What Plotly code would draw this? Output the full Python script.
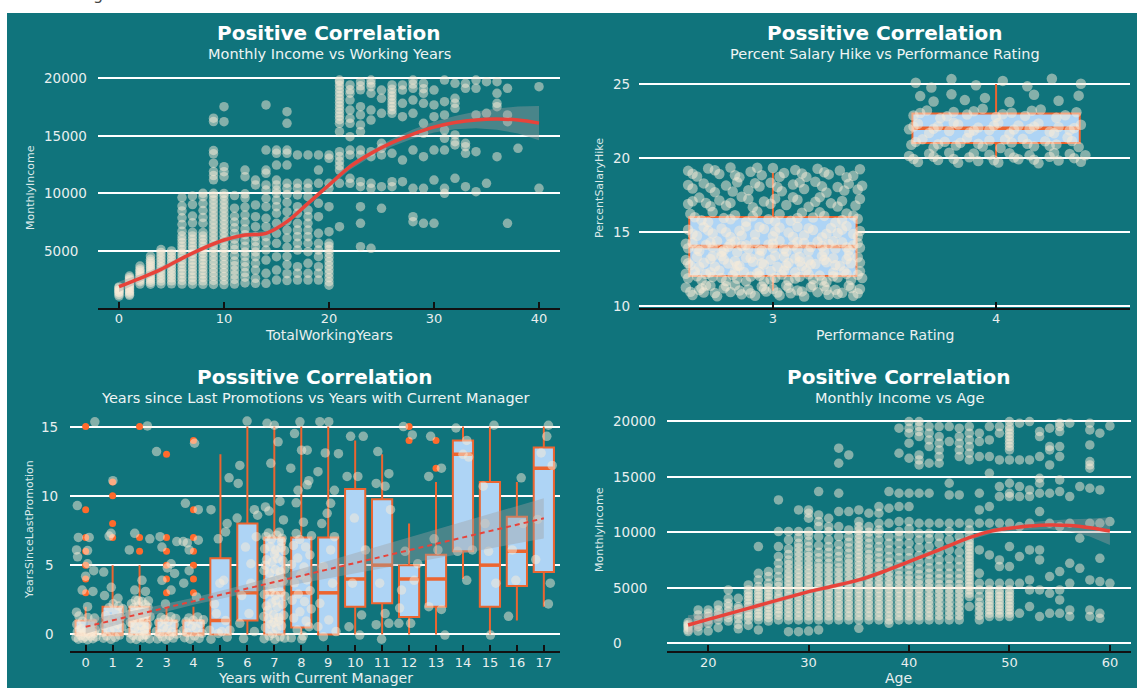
import plotly.graph_objects as go

W, H = 1137, 688
TEAL = "#10747c"
BEIGE = "#faebd7"
BOXFILL = "#aed4f5"
ORANGE = "#ec6530"
OUTLIER = "#ff6a2c"
RED = "#e8433a"
BAND = "rgba(160,160,160,0.40)"
FONT = "DejaVu Sans"
TICKC = "#e8efef"

# ---------------- Monthly income vs total working years ----------------
years_worked = [0, 1, 2, 3, 4, 5, 6, 7, 8, 9, 10, 11, 12, 13, 14, 15, 16, 17, 18, 19, 20,
                21, 22, 23, 24, 25, 26, 27, 28, 29, 30, 31, 32, 33, 34, 35, 36, 37, 38, 40]
income_by_years = [
    [1051, 1200, 1359, 1420, 1569, 1611, 1790, 1850],
    [1118, 1232, 1393, 1514, 1675, 1810, 1951, 2080, 2216, 2362, 2500, 2644, 2800],
    [2104, 2300, 2450, 2610, 2780, 2930, 3100, 3260, 3420, 3670],
    [2086, 2250, 2440, 2600, 2790, 2960, 3140, 3330, 3520, 3700, 3880, 4060, 4250, 4540],
    [2105, 2360, 2600, 2850, 3100, 3350, 3600, 3850, 4100, 4350, 4600, 4850, 5100],
    [2120, 2380, 2640, 2900, 3160, 3420, 3680, 3940, 4200, 4460, 4720, 4980],
    [2100, 2400, 2700, 3000, 3300, 3600, 3900, 4200, 4500, 4800, 5100, 5400, 5700, 6000, 6300,
     6700, 7280, 7860, 8460, 8890, 9620],
    [2090, 2390, 2690, 2990, 3290, 3590, 3890, 4190, 4490, 4790, 5090, 5390, 5690, 5990, 6290,
     6600, 7430, 8020, 9020, 9760],
    [2080, 2380, 2680, 2980, 3280, 3580, 3880, 4180, 4480, 4780, 5080, 5380, 5680, 5980, 6280,
     6580, 7400, 7900, 8500, 9100, 9700, 9990],
    [2070, 2420, 2770, 3120, 3470, 3820, 4170, 4520, 4870, 5220, 5570, 5920, 6270, 6620, 6970,
     7320, 7670, 8020, 8370, 8720, 9070, 9420, 9770, 9990, 11170, 11540, 11890, 12620, 13430,
     13720, 16240, 16530],
    [2060, 2410, 2760, 3110, 3460, 3810, 4160, 4510, 4860, 5210, 5560, 5910, 6260, 6610, 6960,
     7310, 7660, 8010, 8360, 8710, 9060, 9410, 9760, 9980, 11440, 11880, 12310, 16230, 17530],
    [2100, 2500, 2900, 3300, 3700, 4100, 4600, 5100, 5500, 6000, 6500, 7000, 7500, 8000, 8700, 9800],
    [2200, 2700, 3100, 3600, 4000, 4500, 4900, 5400, 5900, 6400, 6900, 7500, 8100, 8800, 9600,
     9950, 11440, 12020],
    [2160, 2600, 3320, 3900, 4480, 4900, 5350, 5800, 6220, 7090, 7960, 8980, 10720, 11150],
    [2160, 3030, 4190, 5060, 5700, 6220, 7090, 7820, 8830, 9560, 10280, 10720, 11730, 12020,
     13760, 17680],
    [2450, 3320, 4480, 5640, 6510, 7380, 8250, 8830, 9410, 9990, 10280, 10720, 11150, 12450,
     13470, 13760],
    [2400, 3000, 3800, 4500, 5300, 6100, 6800, 7600, 8400, 9200, 9900, 10430, 10870, 12450,
     13470, 13760, 16080, 17100],
    [2450, 3030, 3610, 5060, 5640, 6220, 6800, 7380, 8250, 8830, 9850, 10430, 10860, 13330],
    [2450, 3030, 3900, 4920, 5640, 6220, 6800, 7380, 7960, 8540, 9700, 10430, 10860, 13330],
    [2450, 3030, 3610, 4480, 5060, 5640, 6510, 7960, 9120, 10860, 12020, 13330],
    [2000, 2300, 2650, 3000, 3350, 3700, 4050, 4400, 4750, 5100, 5400, 5640, 6660, 8830, 10430,
     10860, 13040, 13330],
    [7090, 10860, 12020, 12400, 12800, 13200, 13620, 15360, 16080, 16400, 16700, 17000, 17300,
     17600, 17900, 18200, 18500, 18800, 19100, 19400, 19700, 19850],
    [10860, 11300, 13330, 13760, 14920, 16080, 16520, 17240, 18110, 18700, 19000, 19420],
    [5350, 7380, 8830, 10570, 11010, 13330, 13760, 15360, 15940, 16810, 17530, 19000, 19350, 19710],
    [5210, 10430, 10860, 13180, 13620, 16370, 17240, 18690, 19270, 19560, 19850],
    [8690, 10570, 13330, 13910, 14340, 16950, 18260, 18980],
    [10570, 11010, 13470, 16950, 17250, 17550, 17850, 18150, 18450, 18750, 19050, 19420],
    [11010, 12890, 16660, 17820, 18980, 19420],
    [7530, 7960, 10430, 13760, 16950, 18110, 19130, 19500, 19850],
    [7380, 10430, 13180, 15210, 16080, 17820, 18690, 19100, 19560],
    [7380, 11150, 13760, 16660, 17680, 18980],
    [9990, 10430, 13760, 14780, 15500, 16810, 17970, 19850],
    [11300, 14200, 14490, 15070, 17390, 17820, 18260, 19560],
    [10570, 13470, 14050, 14340, 19130, 19560],
    [10140, 13620, 16810, 19130, 19850],
    [10860, 16950, 19710],
    [13180, 17530, 17820, 18690, 19710],
    [7380, 16230, 16810, 19130],
    [13910],
    [10430, 19270],
]
fit_years = [0, 2, 4, 6, 8, 10, 12, 14, 16, 18, 20, 22, 24, 26, 28, 30, 32, 34, 36, 38, 40]
fit_income = [1870, 2600, 3380, 4340, 5210, 5930, 6370, 6510, 7530, 9120, 10720, 12310, 13470,
              14400, 15150, 15750, 16150, 16380, 16450, 16370, 16100]
fit_income_lo = [1420, 2270, 3120, 4110, 4990, 5710, 6150, 6290, 7310, 8890, 10480, 12050, 13180,
                 14070, 14760, 15280, 15570, 15650, 15530, 15200, 14620]
fit_income_hi = [2320, 2930, 3640, 4570, 5430, 6150, 6590, 6730, 7750, 9350, 10960, 12570, 13760,
                 14730, 15540, 16220, 16730, 17110, 17370, 17540, 17580]
years_ticks = [0, 10, 20, 30, 40]
income_ticks_top = [5000, 10000, 15000, 20000]

# ---------------- Percent salary hike vs performance rating ----------------
ratings = [3, 4]
hike_q1 = [12, 21]
hike_median = [14, 22]
hike_q3 = [16, 23]
hike_low = [11, 20]
hike_high = [19, 25]
hike_rating3 = [
    (2.61, 11.22), (2.64, 10.71), (2.67, 11.05), (2.69, 10.88), (2.72, 11.34), (2.75, 10.63),
    (2.78, 11.17), (2.81, 10.92), (2.83, 11.38), (2.86, 10.77), (2.89, 11.09), (2.92, 10.66),
    (2.95, 11.29), (2.97, 10.95), (3.00, 11.13), (3.03, 10.69), (3.06, 11.36), (3.08, 10.84),
    (3.11, 11.02), (3.14, 10.61), (3.17, 11.26), (3.20, 10.91), (3.23, 11.31), (3.25, 10.73),
    (3.28, 11.07), (3.31, 10.86), (3.34, 11.35), (3.36, 10.67), (3.39, 11.12), (2.70, 11.36),
    (2.63, 10.93), (2.68, 11.18), (2.74, 10.85), (2.79, 11.31), (2.85, 11.02), (2.90, 10.84),
    (2.96, 11.12), (3.02, 10.89), (3.07, 11.21), (3.13, 10.96), (3.18, 11.38), (3.24, 11.05),
    (3.29, 10.79), (3.35, 11.19), (3.38, 10.83),
    (2.62, 11.85), (2.65, 12.31), (2.68, 11.72), (2.70, 12.14), (2.73, 11.93), (2.76, 12.37),
    (2.79, 11.66), (2.82, 12.06), (2.84, 11.81), (2.87, 12.28), (2.90, 11.97), (2.93, 12.19),
    (2.96, 11.63), (2.99, 12.34), (3.01, 11.88), (3.04, 12.10), (3.07, 11.70), (3.10, 12.25),
    (3.12, 11.95), (3.15, 12.39), (3.18, 11.79), (3.21, 12.03), (3.24, 11.61), (3.27, 12.22),
    (3.29, 11.90), (3.32, 12.33), (3.35, 11.74), (3.38, 12.08), (3.40, 11.86), (2.94, 12.02),
    (2.61, 12.16), (2.66, 11.98), (2.72, 12.26), (2.77, 11.87), (2.83, 12.35), (2.88, 11.64),
    (2.94, 12.27), (2.99, 11.76), (3.05, 12.38), (3.10, 11.83), (3.16, 12.12), (3.22, 11.69),
    (3.27, 11.98), (3.33, 12.15), (3.39, 12.32),
    (2.61, 13.08), (2.63, 12.73), (2.66, 13.29), (2.69, 12.90), (2.72, 13.15), (2.74, 12.64),
    (2.77, 13.36), (2.80, 12.84), (2.83, 13.02), (2.85, 12.70), (2.88, 13.24), (2.91, 12.97),
    (2.94, 13.38), (2.96, 12.78), (2.99, 13.11), (3.02, 12.62), (3.05, 13.31), (3.07, 12.88),
    (3.10, 13.19), (3.13, 12.67), (3.16, 13.05), (3.19, 12.82), (3.22, 13.34), (3.24, 12.93),
    (3.27, 13.21), (3.30, 12.69), (3.33, 13.13), (3.35, 12.86), (3.38, 13.27), (3.12, 12.98),
    (2.62, 12.86), (2.67, 12.62), (2.73, 13.34), (2.78, 13.12), (2.84, 12.68), (2.90, 13.21),
    (2.95, 12.86), (3.01, 13.37), (3.06, 12.71), (3.12, 13.30), (3.17, 12.79), (3.23, 13.09),
    (3.28, 12.74), (3.34, 13.36), (3.39, 12.91),
    (2.62, 13.88), (2.64, 14.27), (2.67, 13.69), (2.70, 14.11), (2.73, 13.94), (2.75, 14.36),
    (2.78, 13.75), (2.81, 14.19), (2.84, 13.62), (2.86, 14.04), (2.89, 13.84), (2.92, 14.31),
    (2.95, 13.71), (2.98, 14.14), (3.00, 13.91), (3.03, 14.38), (3.06, 13.66), (3.09, 14.07),
    (3.11, 13.82), (3.14, 14.25), (3.17, 13.97), (3.20, 14.33), (3.23, 13.64), (3.25, 14.16),
    (3.28, 13.86), (3.31, 14.29), (3.34, 13.73), (3.36, 14.09), (3.39, 13.92), (2.80, 13.98),
    (2.61, 14.18), (2.66, 13.82), (2.72, 14.28), (2.77, 13.64), (2.83, 14.34), (2.88, 14.09),
    (2.94, 13.78), (3.00, 14.21), (3.05, 13.85), (3.11, 14.31), (3.16, 13.68), (3.22, 14.02),
    (3.27, 14.37), (3.33, 13.95), (3.38, 14.24),
    (2.62, 15.14), (2.66, 14.72), (2.69, 15.31), (2.73, 14.88), (2.77, 15.22), (2.81, 14.65),
    (2.85, 15.07), (2.88, 15.36), (2.92, 14.81), (2.96, 15.19), (3.00, 14.69), (3.03, 15.28),
    (3.07, 14.94), (3.11, 15.34), (3.14, 14.76), (3.18, 15.11), (3.22, 14.63), (3.26, 15.25),
    (3.29, 14.91), (3.33, 15.38), (3.36, 14.84), (3.39, 15.05),
    (2.64, 14.86), (2.71, 15.09), (2.79, 14.97), (2.86, 14.74), (2.94, 15.32), (3.01, 15.02),
    (3.09, 14.66), (3.16, 15.24), (3.24, 14.87), (3.31, 15.14), (3.38, 14.68),
    (2.63, 16.21), (2.68, 15.78), (2.73, 16.33), (2.78, 15.92), (2.83, 16.12), (2.88, 15.67),
    (2.93, 16.36), (2.98, 15.85), (3.03, 16.18), (3.08, 15.74), (3.13, 16.29), (3.18, 15.96),
    (3.23, 16.07), (3.28, 15.63), (3.33, 16.24), (3.38, 15.88),
    (2.65, 15.98), (2.71, 15.66), (2.81, 15.84), (2.91, 16.04), (3.01, 15.69), (3.11, 15.93),
    (3.21, 16.31), (3.31, 15.79), (3.36, 16.09),
    (2.62, 16.88), (2.67, 17.31), (2.72, 16.72), (2.76, 17.12), (2.81, 16.95), (2.86, 17.37),
    (2.91, 16.66), (2.96, 17.05), (3.01, 17.24), (3.06, 16.81), (3.11, 17.16), (3.16, 16.69),
    (3.21, 17.34), (3.26, 16.92), (3.31, 17.08), (3.37, 16.77),
    (2.64, 17.06), (2.70, 16.94), (2.79, 16.78), (2.89, 17.22), (2.99, 16.89), (3.09, 17.33),
    (3.19, 17.02), (3.29, 16.71), (3.39, 17.21),
    (2.64, 17.93), (2.69, 18.27), (2.74, 17.68), (2.79, 18.12), (2.84, 18.35), (2.89, 17.81),
    (2.94, 18.06), (2.99, 18.31), (3.04, 17.74), (3.09, 18.19), (3.14, 17.89), (3.19, 18.38),
    (3.24, 17.65), (3.29, 18.03), (3.34, 18.24), (3.38, 17.86),
    (2.62, 18.16), (2.72, 17.98), (2.82, 17.72), (2.92, 18.28), (3.02, 18.02), (3.12, 18.33),
    (3.22, 18.07), (3.32, 17.79), (3.40, 18.11),
    (2.62, 19.12), (2.66, 18.74), (2.71, 19.28), (2.76, 18.91), (2.81, 19.35), (2.85, 18.68),
    (2.90, 19.06), (2.95, 18.83), (3.00, 19.31), (3.05, 18.97), (3.10, 19.18), (3.15, 18.71),
    (3.20, 19.26), (3.25, 18.88), (3.30, 19.14), (3.36, 18.79),
    (2.64, 18.92), (2.74, 19.16), (2.83, 18.82), (2.93, 19.33), (3.03, 18.72), (3.13, 18.94),
    (3.23, 19.02), (3.33, 18.69), (3.39, 19.23),
]
hike_rating4 = [
    (3.61, 20.12), (3.65, 19.72), (3.70, 20.28), (3.74, 19.85), (3.79, 20.35), (3.83, 19.66),
    (3.88, 20.04), (3.92, 19.78), (3.97, 20.21), (4.01, 19.69), (4.06, 20.31), (4.10, 19.91),
    (4.15, 20.17), (4.19, 19.63), (4.24, 20.08), (4.28, 19.82), (4.33, 20.26), (4.38, 19.74),
    (3.63, 19.92), (3.72, 20.07), (3.81, 19.93), (3.90, 20.29), (3.99, 19.84), (4.08, 20.02),
    (4.17, 19.88), (4.26, 20.33), (4.35, 19.98), (4.40, 20.18),
    (3.62, 20.88), (3.67, 21.26), (3.72, 20.71), (3.77, 21.09), (3.82, 20.83), (3.87, 21.34),
    (3.92, 20.95), (3.97, 21.18), (4.02, 20.67), (4.07, 21.04), (4.12, 21.29), (4.17, 20.78),
    (4.22, 21.12), (4.27, 20.91), (4.32, 21.37), (4.37, 20.74),
    (3.64, 21.08), (3.74, 20.92), (3.84, 21.02), (3.94, 20.77), (4.04, 21.24), (4.14, 20.96),
    (4.24, 20.82), (4.34, 21.14),
    (3.61, 21.93), (3.65, 22.31), (3.70, 21.68), (3.74, 22.14), (3.79, 21.82), (3.83, 22.26),
    (3.88, 21.71), (3.92, 22.05), (3.97, 21.89), (4.01, 22.36), (4.06, 21.64), (4.10, 22.19),
    (4.15, 21.96), (4.19, 22.33), (4.24, 21.77), (4.28, 22.09), (4.33, 21.86), (4.38, 22.24),
    (3.63, 22.12), (3.72, 21.97), (3.81, 22.38), (3.90, 21.85), (3.99, 22.17), (4.08, 21.92),
    (4.17, 22.13), (4.26, 21.66), (4.35, 22.02),
    (3.63, 22.87), (3.69, 23.21), (3.75, 22.68), (3.81, 23.11), (3.87, 22.93), (3.94, 23.32),
    (4.00, 22.76), (4.07, 23.05), (4.13, 22.84), (4.20, 23.27), (4.27, 22.72), (4.36, 23.09),
    (3.66, 23.04), (3.78, 22.81), (3.90, 23.16), (4.03, 22.95), (4.16, 23.19), (4.31, 22.88),
    (3.66, 24.18), (3.72, 23.82), (3.80, 24.31), (3.86, 23.91), (3.95, 24.06), (4.06, 23.78),
    (4.17, 24.27), (4.28, 23.87), (4.37, 24.21),
    (3.64, 25.08), (3.71, 24.76), (3.80, 25.33), (3.91, 24.92), (4.03, 25.21), (4.14, 24.84),
    (4.25, 25.36), (4.38, 25.02),
]
hike_ticks = [10, 15, 20, 25]

# ---------------- Years since last promotion vs years with current manager ----------------
manager_years = [0, 1, 2, 3, 4, 5, 6, 7, 8, 9, 10, 11, 12, 13, 14, 15, 16, 17]
promo_q1 = [0, 0, 0, 0, 0, 0, 1, 0, 0.5, 0, 2, 2.25, 1.25, 2, 6, 2, 3.5, 4.5]
promo_median = [0, 0, 1, 0, 0, 1, 3, 3, 3, 3, 4, 5, 4, 4, 13, 5, 6, 12]
promo_q3 = [1, 2, 2, 1, 1, 5.5, 8, 7, 7, 7, 10.5, 9.75, 5, 5.75, 14, 11, 8.5, 13.5]
promo_low = [0, 0, 0, 0, 0, 0, 0, 0, 0, 0, 0, 0, 0, 0, 4, 0, 1, 2]
promo_high = [2, 5, 5, 2, 2, 13, 15, 15, 15, 15, 14, 13, 8, 11, 15, 15, 11, 15]
promo_outlier_x = [0, 0, 0, 0, 0, 0, 0, 1, 1, 1, 1, 2, 2, 2, 3, 3, 3, 3, 3, 3,
                   4, 4, 4, 4, 4, 4, 4, 12, 12, 13, 13]
promo_outlier_y = [15, 9, 7, 6, 5, 4, 3, 11, 10, 8, 7, 15, 7, 6, 13, 7, 6, 5, 4, 3,
                   14, 9, 7, 6, 5, 4, 3, 15, 14, 14, 12]
promo_points = [
    (-0.36, -0.22), (-0.31, 0.18), (-0.27, -0.35), (-0.22, 0.34), (-0.18, -0.08), (-0.14, 0.41),
    (-0.10, -0.29), (-0.06, 0.12), (-0.02, -0.17), (0.03, 0.29), (0.07, -0.38), (0.11, 0.05),
    (0.15, 0.38), (0.19, -0.12), (0.23, 0.22), (0.27, -0.31), (0.31, 0.09), (0.35, 0.36),
    (0.38, -0.19), (-0.33, 0.72), (-0.12, 0.95), (0.08, 1.21), (0.26, 0.83), (-0.25, 1.32),
    (0.33, 1.18), (-0.31, 9.3), (-0.27, 7.0), (0.13, 7.0), (-0.34, 6.1), (0.07, 6.05),
    (0.07, 5.1), (0.0, 4.2), (-0.13, 3.2), (0.27, 3.1), (0.07, 2.0), (-0.34, 1.6), (0.34, 15.35),
    (-0.3, 5.6), (0.3, 4.6),
    (0.62, 0.15), (0.66, -0.28), (0.70, 0.62), (0.74, 1.35), (0.78, -0.12), (0.82, 0.88),
    (0.86, 1.92), (0.90, 0.31), (0.94, -0.36), (0.98, 1.12), (1.02, 2.21), (1.06, 0.45),
    (1.10, -0.21), (1.14, 1.58), (1.18, 0.74), (1.22, 2.05), (1.26, -0.05), (1.30, 1.27),
    (1.34, 0.52), (1.38, 1.85), (0.67, 4.5), (1.01, 11.1), (0.95, 3.4), (0.94, 7.3),
    (0.87, 7.1), (1.2, 2.6), (0.7, 2.8),
    (1.61, 0.12), (1.64, 1.45), (1.67, -0.31), (1.70, 2.21), (1.73, 0.78), (1.76, -0.08),
    (1.79, 1.92), (1.82, 0.46), (1.85, 2.48), (1.88, -0.37), (1.91, 1.18), (1.94, 0.25),
    (1.97, 2.05), (2.00, -0.15), (2.03, 1.66), (2.06, 0.62), (2.09, 2.37), (2.12, -0.26),
    (2.15, 1.03), (2.18, 0.33), (2.21, 2.14), (2.24, -0.02), (2.27, 1.51), (2.30, 0.71),
    (2.33, 2.42), (2.36, -0.33), (2.39, 1.28), (1.75, 1.1), (2.0, 0.95), (2.25, 0.5),
    (1.66, 0.85), (1.86, 1.55), (2.08, 1.35), (2.31, 1.95), (1.95, 2.45), (2.17, -0.05),
    (1.62, 6.1), (1.82, 7.3), (2.38, 6.9), (2.09, 3.9), (1.82, 3.2), (2.22, 3.1), (2.29, 15.05),
    (2.62, 0.21), (2.66, -0.33), (2.71, 0.86), (2.75, 0.05), (2.80, 1.22), (2.84, -0.18),
    (2.89, 0.53), (2.93, 1.08), (2.98, -0.36), (3.02, 0.37), (3.07, 0.94), (3.11, -0.09),
    (3.16, 1.28), (3.20, 0.18), (3.25, -0.27), (3.29, 0.71), (3.34, 1.15), (3.38, 0.02),
    (2.63, 13.2), (2.83, 3.9), (3.17, 5.1), (3.3, 4.4), (2.96, 2.2), (2.83, 6.3), (3.17, 3.2),
    (3.03, 4.8), (3.38, 6.7), (2.76, 7.05),
    (3.62, 0.28), (3.67, -0.24), (3.72, 0.91), (3.77, 0.12), (3.83, 1.19), (3.88, -0.35),
    (3.93, 0.58), (3.99, 1.02), (4.04, -0.11), (4.10, 0.44), (4.15, 1.26), (4.21, -0.29),
    (4.26, 0.77), (4.32, 0.08), (4.37, 1.05), (3.7, 9.46), (4.18, 9.0), (4.04, 13.8),
    (3.77, 6.6), (4.18, 6.8), (3.64, 3.7), (3.84, 4.6), (4.11, 2.7), (3.62, 6.7), (3.84, 6.1),
    (4.65, 9.0), (4.92, 6.9), (5.25, 8.0), (5.32, 11.3), (5.12, 3.9), (4.78, 2.2), (5.19, 1.0),
    (4.92, 0.07), (4.65, -0.35), (5.05, 0.2), (4.85, 1.5), (5.25, -0.2), (5.35, 0.3),
    (4.6, 0.3), (5.19, 7.4), (4.98, 3.7),
    (5.72, 12.2), (6.26, 9.0), (5.93, 6.3), (6.13, 3.7), (5.79, 2.8), (6.06, 1.5), (6.26, 0.2),
    (5.72, 0.8), (5.99, 15.4), (5.66, 10.9), (6.33, 7.05), (5.86, -0.3), (6.13, 5.1),
    (6.38, 8.6), (5.62, 8.4),
    (6.62, -0.31), (6.81, -0.12), (7.02, -0.36), (7.21, -0.18), (7.38, -0.27),
    (6.67, 0.48), (6.88, 0.71), (7.08, 0.39), (7.27, 0.62), (6.98, 0.85),
    (6.61, 1.29), (6.79, 1.12), (6.97, 1.41), (7.16, 1.21), (7.35, 1.38),
    (6.70, 2.05), (6.90, 2.27), (7.11, 1.96), (7.31, 2.18),
    (6.63, 2.88), (6.84, 3.07), (7.04, 2.81), (7.24, 3.02), (7.39, 2.76),
    (6.73, 3.74), (6.94, 3.91), (7.14, 3.68), (7.33, 3.86),
    (6.62, 4.61), (6.83, 4.43), (7.03, 4.69), (7.22, 4.52), (7.39, 4.71),
    (6.71, 5.38), (6.92, 5.22), (7.12, 5.47), (7.32, 5.31),
    (6.64, 6.18), (6.85, 6.33), (7.05, 6.09), (7.25, 6.26), (7.38, 6.05),
    (6.69, 7.05), (6.89, 6.88), (7.09, 7.16), (7.29, 6.94), (6.78, 7.32), (7.18, 7.38),
    (6.76, 1.75), (7.06, 2.45), (6.95, 3.35), (7.19, 4.15), (6.67, 5.0), (7.01, 5.8),
    (7.27, 6.7), (6.93, 0.05), (7.16, 0.95),
    (6.73, 15.24), (7.14, 13.9), (6.87, 12.35), (7.21, 9.6), (6.8, 8.9), (7.34, 8.26),
    (7.0, 15.1), (6.67, 9.2),
    (7.63, -0.25), (7.85, 0.32), (8.07, -0.11), (8.29, 0.55), (7.72, 1.18), (7.95, 1.63),
    (8.18, 0.97), (8.37, 1.84), (7.66, 2.46), (7.89, 2.91), (8.12, 2.37), (8.33, 3.15),
    (7.75, 3.72), (7.98, 4.28), (8.21, 3.93), (7.64, 5.05), (7.87, 5.51), (8.10, 4.86),
    (8.32, 5.74), (7.71, 6.42), (7.94, 6.85), (8.16, 6.31), (8.38, 7.12), (8.02, -0.34),
    (7.81, 7.28), (7.61, 12.0), (8.22, 13.3), (7.88, 10.4), (8.08, 8.1), (8.28, 11.1),
    (7.81, 9.5), (8.01, 13.3), (7.95, 15.35), (8.22, 10.8), (7.75, 14.5),
    (8.69, 15.36), (9.02, 15.36), (8.89, 13.1), (8.62, 11.75), (9.09, 9.46), (8.96, 8.74),
    (8.76, 8.0), (9.23, 7.05), (8.82, 4.9), (9.16, 3.7), (8.69, 2.24), (9.02, 1.04),
    (9.29, 0.2), (8.82, -0.17), (8.62, 0.55), (9.09, 6.1), (9.38, 13.05), (9.23, 10.4),
    (9.7, 11.4), (10.1, 11.4), (9.97, 8.4), (10.24, 1.4), (9.77, 0.55), (10.17, -0.05),
    (9.83, 14.3), (10.3, 14.3), (9.9, 3.7), (10.38, 6.1),
    (10.84, 13.2), (11.25, 11.6), (10.78, 10.9), (11.11, 1.5), (10.78, 0.7), (11.25, 0.8),
    (10.98, -0.35), (11.11, 10.7), (11.31, 9.0), (10.91, 3.7),
    (11.79, 15.0), (12.12, 14.4), (11.65, 1.9), (12.06, 0.8), (11.85, 6.0), (12.19, 3.9),
    (11.72, 3.2), (12.32, 5.1), (11.62, 0.8),
    (12.8, 14.3), (13.2, 12.0), (12.73, 11.4), (12.93, 6.9), (13.2, 1.8), (13.33, -0.05),
    (12.73, 2.0), (13.07, 6.1),
    (13.74, 14.9), (14.14, 14.0), (14.0, 13.0), (13.8, 6.0), (14.14, 3.9), (14.35, 6.1),
    (14.21, 12.8),
    (14.75, 10.7), (15.15, 15.1), (14.95, 6.0), (15.02, -0.05), (15.22, 3.7), (14.82, 8.0),
    (15.69, 1.3), (16.16, 11.3), (15.96, 3.9), (15.83, 6.1), (16.23, 8.0),
    (17.17, 15.1), (17.11, 14.3), (17.31, 12.2), (16.7, 5.4), (17.24, 3.7), (17.17, 2.2),
    (16.9, 13.1), (16.77, 8.3),
]
trend_x = [0, 17]
trend_y = [0.55, 8.38]
trend_band_x = [0, 2, 4, 6, 8, 10, 12, 14, 17]
trend_band_lo = [0.05, 1.14, 2.14, 2.98, 3.73, 4.46, 5.16, 5.86, 6.93]
trend_band_hi = [1.05, 1.80, 2.64, 3.64, 4.73, 5.86, 7.00, 8.14, 9.83]
promo_ticks = [0, 5, 10, 15]

# ---------------- Monthly income vs age ----------------
ages = list(range(18, 61))
income_by_age = [
    [1051, 1200, 1420, 1569, 1700, 1878],
    [1100, 1500, 1700, 2100, 2550, 3000],
    [1100, 1800, 2100, 2400, 2700, 3000],
    [1400, 2100, 2400, 2700, 3000, 3450],
    [2000, 2300, 2600, 2900, 3300, 3600, 4050, 4800],
    [1300, 1700, 2200, 2500, 2800, 3100, 3300, 4050],
    [1600, 2100, 2400, 2700, 3000, 3300, 3600, 3900, 4200, 4500, 4800, 5250],
    [1200, 2100, 2400, 2700, 3000, 3300, 3600, 3900, 4200, 4500, 4800, 5100, 5700, 6300, 8700],
    [2000, 2300, 2600, 2900, 3200, 3500, 3800, 4100, 4400, 4700, 5000, 5400, 6000, 6450],
    [2100, 2500, 2800, 3100, 3400, 3700, 4000, 4300, 4700, 5100, 5500, 6000, 6600, 7200, 7800,
     8700, 10050, 12900],
    [1050, 2100, 2450, 2800, 3150, 3500, 3850, 4200, 4550, 4900, 5250, 5600, 5950, 6300, 6700,
     7100, 7500, 8000, 8500, 9300, 10050],
    [1050, 2100, 2450, 2800, 3150, 3500, 3850, 4200, 4550, 4900, 5250, 5600, 5950, 6300, 6650,
     7000, 7400, 7800, 8200, 8600, 9000, 9500, 10050, 12000],
    [1100, 2100, 2450, 2800, 3150, 3500, 3850, 4200, 4550, 4900, 5250, 5600, 5950, 6300, 6650,
     7000, 7400, 7800, 8200, 8700, 9200, 9700, 10050, 11250, 11700, 12000],
    [1200, 2100, 2450, 2800, 3150, 3500, 3850, 4200, 4550, 4900, 5250, 5600, 6000, 6400, 6800,
     7200, 7700, 8200, 8800, 9600, 10500, 10950, 11550, 13650],
    [2100, 2450, 2800, 3150, 3500, 3850, 4200, 4550, 4900, 5250, 5600, 6000, 6400, 6800, 7200,
     7700, 8200, 8700, 9300, 10050, 10500, 11250],
    [2100, 2450, 2800, 3150, 3500, 3850, 4200, 4550, 4900, 5250, 5600, 6000, 6400, 6800, 7300,
     7800, 8300, 8900, 9600, 10500, 11850, 13500, 16200, 17550],
    [2100, 2450, 2800, 3150, 3500, 3850, 4200, 4550, 4900, 5250, 5600, 6000, 6400, 6800, 7200,
     7600, 8100, 8600, 9100, 9600, 10200, 11850, 16950],
    [1350, 2100, 2450, 2800, 3150, 3500, 3850, 4200, 4550, 4900, 5250, 5600, 5950, 6300, 6650,
     7000, 7350, 7700, 8050, 8400, 8750, 9100, 9450, 9800, 10150, 10500, 10950, 12000],
    [2100, 2450, 2800, 3150, 3500, 3850, 4200, 4550, 4900, 5250, 5600, 6000, 6400, 6800, 7200,
     7600, 8000, 8500, 9000, 9500, 10000, 10500, 11700],
    [2100, 2450, 2800, 3150, 3500, 3850, 4200, 4550, 4900, 5250, 5600, 6000, 6400, 6800, 7200,
     7700, 8200, 8700, 9300, 9900, 10200, 10800, 11700, 12300],
    [1800, 2100, 2450, 2800, 3150, 3500, 3850, 4200, 4550, 4900, 5250, 5600, 6000, 6400, 6800,
     7300, 7800, 8400, 9000, 9600, 10800, 12150, 13650],
    [2100, 2450, 2800, 3150, 3500, 3850, 4200, 4550, 4900, 5300, 5700, 6100, 6600, 7100, 7700,
     8300, 9000, 9600, 10050, 10950, 12300, 13500, 17100, 19350],
    [2100, 2450, 2800, 3150, 3500, 3850, 4200, 4550, 4900, 5300, 5700, 6100, 6600, 7100, 7700,
     8300, 9000, 9700, 10300, 10950, 12300, 13500, 16650, 18000, 18900, 19350, 19950],
    [2100, 2450, 2800, 3150, 3500, 3850, 4200, 4550, 4900, 5300, 5700, 6200, 6700, 7300, 7900,
     8600, 9300, 9900, 10800, 13500, 16050, 16500, 16950, 18600, 19050, 19500, 19950],
    [2100, 2450, 2800, 3150, 3500, 3850, 4200, 4600, 5000, 5400, 5800, 6300, 6800, 7400, 8000,
     8700, 9400, 9900, 10800, 13500, 16200, 17700, 18300, 18900, 19500],
    [2100, 2500, 2900, 3300, 3700, 4100, 4500, 4900, 5300, 5800, 6300, 6900, 7500, 8200, 9000,
     9600, 10800, 16200, 16800, 17400, 18000, 18600, 19500],
    [2100, 2500, 2900, 3300, 3700, 4100, 4500, 4900, 5300, 5800, 6300, 6900, 7600, 8400, 9300,
     10050, 10800, 13350, 14400, 18150, 19500],
    [2100, 2500, 2900, 3300, 3700, 4100, 4500, 4900, 5300, 5800, 6300, 6900, 7500, 8200, 9000,
     9600, 10800, 13350, 16800, 17400, 18000, 18600, 19350],
    [3300, 4200, 4500, 4800, 5100, 5400, 5700, 6000, 6300, 6600, 6900, 7200, 7500, 7800, 8100,
     8400, 8700, 9000, 9300, 9700, 10200, 10800, 16500, 17100, 17700, 18300, 18900, 19500],
    [2100, 2500, 2900, 3300, 3700, 4200, 4800, 5400, 6300, 8400, 10800, 12000, 13500, 16800,
     18150, 18900],
    [2400, 2700, 3000, 3300, 3600, 3900, 4200, 4500, 4800, 5400, 7950, 10800, 12300, 15300,
     16800, 18300, 19500],
    [2400, 2700, 3000, 3300, 3600, 3900, 4200, 4500, 4800, 5400, 6900, 7500, 10800, 13200,
     14100, 16500, 18900, 19500],
    [2400, 2700, 3000, 3300, 3600, 3900, 4200, 4500, 4800, 5400, 6900, 8700, 10800, 13200,
     13500, 14400, 16500, 17400, 17700, 18000, 18300, 18600, 18900, 19200, 19500, 19950],
    [2700, 5400, 7800, 10500, 13200, 14100, 16500, 19800],
    [3300, 4800, 5700, 8400, 10800, 13200, 13800, 16500, 19950],
    [2400, 4800, 7500, 8400, 11850, 13500, 14400, 14850, 16800, 18600, 19050],
    [2700, 4500, 6000, 10800, 13500, 16050, 17400, 17700, 19350],
    [2700, 3900, 4800, 6450, 10500, 13650, 14700, 16800, 17700, 19050, 19500, 19800],
    [2400, 3000, 5400, 7200, 10800, 13200, 19800],
    [6750, 9450, 14100],
    [2400, 3000, 5700, 10800, 13950, 15750, 16050, 16350, 17850, 19200, 19800],
    [2250, 2700, 5550, 7650, 10800, 13800, 18900],
    [5400, 10950, 19560],
]
age_fit = [18, 20, 22, 25, 28, 30, 32, 35, 37, 40, 43, 46, 48, 50, 52, 54, 56, 58, 60]
age_fit_income = [1650, 2150, 2650, 3400, 4150, 4650, 5050, 5700, 6300, 7350, 8400, 9500,
                  10050, 10350, 10550, 10650, 10600, 10400, 10100]
age_fit_lo = [770, 1590, 2270, 3140, 3940, 4450, 4850, 5500, 6090, 7130, 8170, 9270, 9800,
              10070, 10220, 10250, 10050, 9600, 8850]
age_fit_hi = [2530, 2710, 3030, 3660, 4360, 4850, 5250, 5900, 6510, 7570, 8630, 9730, 10300,
              10630, 10880, 11050, 11150, 11200, 11350]
age_ticks = [20, 30, 40, 50, 60]
income_ticks_bottom = [0, 5000, 10000, 15000, 20000]


def px(x):
    return x / W


def py(y):
    return 1 - y / H


fig = go.Figure()


def add_points(xs, ys, xa, ya, size=9.5):
    fig.add_trace(go.Scatter(x=xs, y=ys, mode="markers", xaxis=xa, yaxis=ya,
                             marker=dict(size=size, color=BEIGE, opacity=0.5, line=dict(width=0)),
                             hoverinfo="skip"))


def add_band(xs, lo, hi, xa, ya):
    fig.add_trace(go.Scatter(x=list(xs) + list(xs)[::-1], y=list(hi) + list(lo)[::-1],
                             mode="lines", fill="toself", fillcolor=BAND,
                             line=dict(width=0), xaxis=xa, yaxis=ya, hoverinfo="skip"))


def add_medians(xs, meds, width, xa, ya):
    mx, my = [], []
    for x, m in zip(xs, meds):
        mx += [x - width / 2, x + width / 2, None]
        my += [m, m, None]
    fig.add_trace(go.Scatter(x=mx, y=my, mode="lines", xaxis=xa, yaxis=ya,
                             line=dict(color=ORANGE, width=3.5), hoverinfo="skip"))


# Panel 1: income vs working years
p1x, p1y = [], []
for yr, incs in zip(years_worked, income_by_years):
    p1x += [yr] * len(incs)
    p1y += incs
add_points(p1x, p1y, "x", "y")
add_band(fit_years, fit_income_lo, fit_income_hi, "x", "y")
fig.add_trace(go.Scatter(x=fit_years, y=fit_income, mode="lines", line=dict(color=RED, width=3.5,
                         shape="spline"), xaxis="x", yaxis="y", hoverinfo="skip"))

# Panel 2: salary hike vs rating
fig.add_trace(go.Box(x=ratings, q1=hike_q1, median=hike_median, q3=hike_q3,
                     lowerfence=hike_low, upperfence=hike_high, width=0.75, whiskerwidth=0,
                     fillcolor=BOXFILL, line=dict(color=ORANGE, width=2), boxpoints=False,
                     xaxis="x2", yaxis="y2", hoverinfo="skip"))
add_medians(ratings, hike_median, 0.75, "x2", "y2")
add_points([p[0] for p in hike_rating3 + hike_rating4], [p[1] for p in hike_rating3 + hike_rating4],
           "x2", "y2", size=10.5)

# Panel 3: promotion vs manager
fig.add_trace(go.Box(x=manager_years, q1=promo_q1, median=promo_median, q3=promo_q3,
                     lowerfence=promo_low, upperfence=promo_high, width=0.75, whiskerwidth=0,
                     fillcolor=BOXFILL, line=dict(color=ORANGE, width=2), boxpoints=False,
                     xaxis="x3", yaxis="y3", hoverinfo="skip"))
add_medians(manager_years, promo_median, 0.75, "x3", "y3")
fig.add_trace(go.Scatter(x=promo_outlier_x, y=promo_outlier_y, mode="markers", xaxis="x3",
                         yaxis="y3", marker=dict(size=7, color=OUTLIER), hoverinfo="skip"))
add_points([p[0] for p in promo_points], [p[1] for p in promo_points], "x3", "y3")
add_band(trend_band_x, trend_band_lo, trend_band_hi, "x3", "y3")
fig.add_trace(go.Scatter(x=trend_x, y=trend_y, mode="lines", xaxis="x3", yaxis="y3",
                         line=dict(color=RED, width=2, dash="5px,4px"), hoverinfo="skip"))

# Panel 4: income vs age
p4x, p4y = [], []
for a, incs in zip(ages, income_by_age):
    p4x += [a] * len(incs)
    p4y += incs
add_points(p4x, p4y, "x4", "y4")
add_band(age_fit, age_fit_lo, age_fit_hi, "x4", "y4")
fig.add_trace(go.Scatter(x=age_fit, y=age_fit_income, mode="lines", line=dict(color=RED, width=3.5,
                         shape="spline"), xaxis="x4", yaxis="y4", hoverinfo="skip"))

tickfont = dict(family=FONT, size=13, color=TICKC)


def xaxis(domain, rng, ticks, anchor):
    return dict(domain=domain, range=rng, anchor=anchor, tickmode="array", tickvals=ticks,
                showgrid=False, zeroline=False, showline=True, linecolor="#111111", linewidth=2,
                ticks="inside", ticklen=6, tickwidth=2, tickcolor="#111111", tickfont=tickfont,
                ticklabelstandoff=-2, fixedrange=True)


def yaxis(domain, rng, ticks, anchor):
    return dict(domain=domain, range=rng, anchor=anchor, tickmode="array", tickvals=ticks,
                showgrid=True, gridcolor="white", gridwidth=2, zeroline=False, showline=False,
                showticklabels=False, ticks="", fixedrange=True)


top = [py(307.5), py(67)]
bottom = [py(651), py(410)]

fig.update_layout(
    width=W, height=H, margin=dict(l=0, r=0, t=0, b=0),
    paper_bgcolor=TEAL, plot_bgcolor=TEAL, showlegend=False,
    xaxis=xaxis([px(98), px(560)], [-2, 42], years_ticks, "y"),
    yaxis=yaxis(top, [61, 20983], income_ticks_top, "x"),
    xaxis2=xaxis([px(639), px(1130)], [2.4, 4.6], ratings, "y2"),
    yaxis2=yaxis(top, [9.87, 26.15], hike_ticks, "x2"),
    xaxis3=xaxis([px(69.5), px(560)], [-0.6, 17.6], manager_years, "y3"),
    yaxis3=yaxis(bottom, [-1.2, 16.2], promo_ticks, "x3"),
    xaxis4=xaxis([px(667), px(1131)], [15.9, 62.1], age_ticks, "y4"),
    yaxis4=yaxis(bottom, [-693, 20990], income_ticks_bottom, "x4"),
    shapes=[
        dict(type="rect", xref="paper", yref="paper", x0=0, x1=1, y0=py(13), y1=1,
             fillcolor="white", line=dict(width=0), layer="below"),
        dict(type="rect", xref="paper", yref="paper", x0=0, x1=px(7), y0=0, y1=1,
             fillcolor="white", line=dict(width=0), layer="below"),
    ],
)

ann = []


def text(x, y, s, size, color="white", bold=False, angle=0, xanchor="center"):
    ann.append(dict(x=px(x), y=py(y), xref="paper", yref="paper", text=f"<b>{s}</b>" if bold else s,
                    showarrow=False, xanchor=xanchor, yanchor="middle", textangle=angle,
                    font=dict(family=FONT, size=size, color=color)))


# titles and subtitles
text(329, 33, "Positive Correlation", 20, bold=True)
text(329, 54, "Monthly Income vs Working Years", 14.5, color="#eef4f4")
text(884.5, 33, "Possitive Correlation", 20, bold=True)
text(884.5, 54, "Percent Salary Hike vs Performance Rating", 14.5, color="#eef4f4")
text(315, 376.5, "Possitive Correlation", 20, bold=True)
text(315, 397.5, "Years since Last Promotions vs Years with Current Manager", 14.5, color="#eef4f4")
text(899, 376.5, "Positive Correlation", 20, bold=True)
text(899, 397.5, "Monthly Income vs Age", 14.5, color="#eef4f4")

# axis titles
text(329, 334.5, "TotalWorkingYears", 14, color=TICKC)
text(884.5, 334.5, "Performance Rating", 14, color=TICKC)
text(315, 678, "Years with Current Manager", 14, color=TICKC)
text(898, 678, "Age", 14, color=TICKC)
text(30, 188, "MonthlyIncome", 11, color="#dde9e9", angle=-90)
text(599, 188, "PercentSalaryHike", 11, color="#dde9e9", angle=-90)
text(29, 530, "YearsSinceLastPromotion", 11, color="#dde9e9", angle=-90)
text(599, 530, "MonthlyIncome", 11, color="#dde9e9", angle=-90)


def ytick_labels(vals, yref, x, xanchor):
    for v in vals:
        ann.append(dict(x=px(x), y=v, xref="paper", yref=yref, text=str(v), showarrow=False,
                        xanchor=xanchor, yanchor="middle", font=dict(tickfont, size=13.5)))


ytick_labels(income_ticks_top, "y", 42, "left")
ytick_labels(hike_ticks, "y2", 611, "left")
ytick_labels(promo_ticks, "y3", 49, "center")
ytick_labels(income_ticks_bottom, "y4", 611, "left")

# clipped heading fragment above the panels
ann.append(dict(x=px(98), y=py(6), xref="paper", yref="paper", text="g", showarrow=False,
                xanchor="center", yanchor="bottom", font=dict(family=FONT, size=16, color="#444444")))

fig.update_layout(annotations=ann)
fig.write_html("out.html")
